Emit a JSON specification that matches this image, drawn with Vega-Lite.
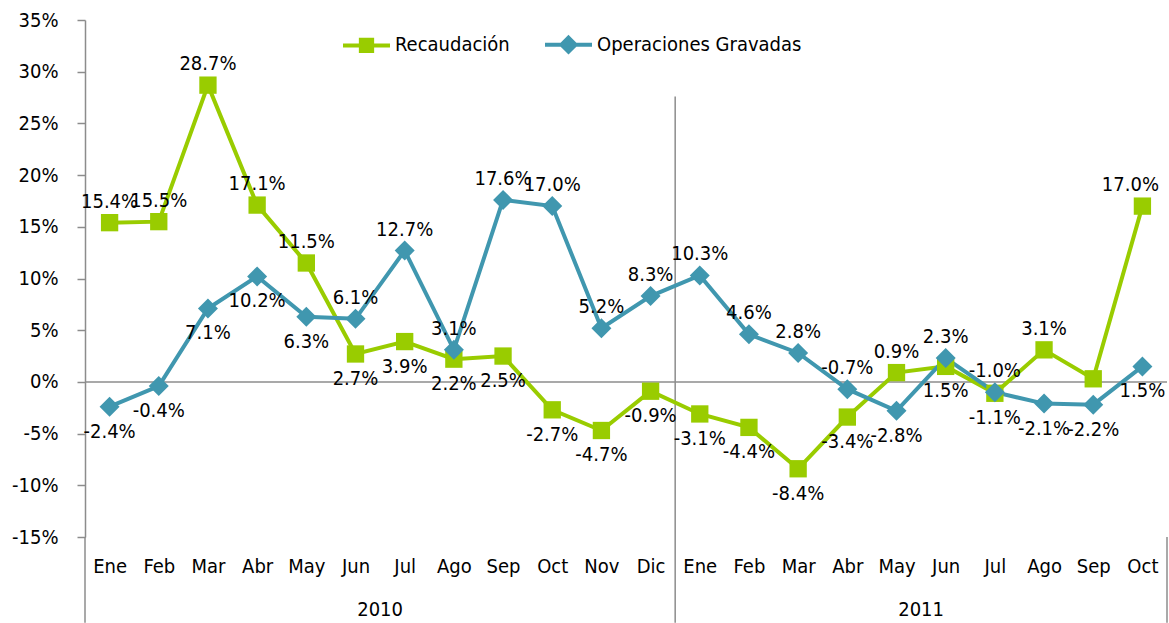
{
  "$schema": "https://vega.github.io/schema/vega-lite/v6.json",
  "width": 1082,
  "height": 517,
  "autosize": {"type": "none"},
  "padding": {"left": 85, "top": 20, "right": 2, "bottom": 86},
  "background": "white",
  "config": {
    "font": "DejaVu Sans Condensed, Liberation Sans Narrow, sans-serif",
    "view": {"stroke": null},
    "locale": {"number": {"decimal": ".", "thousands": ",", "grouping": [3], "currency": ["$", ""], "minus": "-"}}
  },
  "data": {
    "values": [
      {"idx": 0, "mes": "Ene", "anio": "2010", "serie": "Recaudación", "valor": 0.154},
      {"idx": 1, "mes": "Feb", "anio": "2010", "serie": "Recaudación", "valor": 0.155},
      {"idx": 2, "mes": "Mar", "anio": "2010", "serie": "Recaudación", "valor": 0.287},
      {"idx": 3, "mes": "Abr", "anio": "2010", "serie": "Recaudación", "valor": 0.171},
      {"idx": 4, "mes": "May", "anio": "2010", "serie": "Recaudación", "valor": 0.115},
      {"idx": 5, "mes": "Jun", "anio": "2010", "serie": "Recaudación", "valor": 0.027},
      {"idx": 6, "mes": "Jul", "anio": "2010", "serie": "Recaudación", "valor": 0.039},
      {"idx": 7, "mes": "Ago", "anio": "2010", "serie": "Recaudación", "valor": 0.022},
      {"idx": 8, "mes": "Sep", "anio": "2010", "serie": "Recaudación", "valor": 0.025},
      {"idx": 9, "mes": "Oct", "anio": "2010", "serie": "Recaudación", "valor": -0.027},
      {"idx": 10, "mes": "Nov", "anio": "2010", "serie": "Recaudación", "valor": -0.047},
      {"idx": 11, "mes": "Dic", "anio": "2010", "serie": "Recaudación", "valor": -0.009},
      {"idx": 12, "mes": "Ene", "anio": "2011", "serie": "Recaudación", "valor": -0.031},
      {"idx": 13, "mes": "Feb", "anio": "2011", "serie": "Recaudación", "valor": -0.044},
      {"idx": 14, "mes": "Mar", "anio": "2011", "serie": "Recaudación", "valor": -0.084},
      {"idx": 15, "mes": "Abr", "anio": "2011", "serie": "Recaudación", "valor": -0.034},
      {"idx": 16, "mes": "May", "anio": "2011", "serie": "Recaudación", "valor": 0.009},
      {"idx": 17, "mes": "Jun", "anio": "2011", "serie": "Recaudación", "valor": 0.015},
      {"idx": 18, "mes": "Jul", "anio": "2011", "serie": "Recaudación", "valor": -0.011},
      {"idx": 19, "mes": "Ago", "anio": "2011", "serie": "Recaudación", "valor": 0.031},
      {"idx": 20, "mes": "Sep", "anio": "2011", "serie": "Recaudación", "valor": 0.003, "mostrar": false},
      {"idx": 21, "mes": "Oct", "anio": "2011", "serie": "Recaudación", "valor": 0.170},
      {"idx": 0, "mes": "Ene", "anio": "2010", "serie": "Operaciones Gravadas", "valor": -0.024},
      {"idx": 1, "mes": "Feb", "anio": "2010", "serie": "Operaciones Gravadas", "valor": -0.004},
      {"idx": 2, "mes": "Mar", "anio": "2010", "serie": "Operaciones Gravadas", "valor": 0.071},
      {"idx": 3, "mes": "Abr", "anio": "2010", "serie": "Operaciones Gravadas", "valor": 0.102},
      {"idx": 4, "mes": "May", "anio": "2010", "serie": "Operaciones Gravadas", "valor": 0.063},
      {"idx": 5, "mes": "Jun", "anio": "2010", "serie": "Operaciones Gravadas", "valor": 0.061},
      {"idx": 6, "mes": "Jul", "anio": "2010", "serie": "Operaciones Gravadas", "valor": 0.127},
      {"idx": 7, "mes": "Ago", "anio": "2010", "serie": "Operaciones Gravadas", "valor": 0.031},
      {"idx": 8, "mes": "Sep", "anio": "2010", "serie": "Operaciones Gravadas", "valor": 0.176},
      {"idx": 9, "mes": "Oct", "anio": "2010", "serie": "Operaciones Gravadas", "valor": 0.170},
      {"idx": 10, "mes": "Nov", "anio": "2010", "serie": "Operaciones Gravadas", "valor": 0.052},
      {"idx": 11, "mes": "Dic", "anio": "2010", "serie": "Operaciones Gravadas", "valor": 0.083},
      {"idx": 12, "mes": "Ene", "anio": "2011", "serie": "Operaciones Gravadas", "valor": 0.103},
      {"idx": 13, "mes": "Feb", "anio": "2011", "serie": "Operaciones Gravadas", "valor": 0.046},
      {"idx": 14, "mes": "Mar", "anio": "2011", "serie": "Operaciones Gravadas", "valor": 0.028},
      {"idx": 15, "mes": "Abr", "anio": "2011", "serie": "Operaciones Gravadas", "valor": -0.007},
      {"idx": 16, "mes": "May", "anio": "2011", "serie": "Operaciones Gravadas", "valor": -0.028},
      {"idx": 17, "mes": "Jun", "anio": "2011", "serie": "Operaciones Gravadas", "valor": 0.023},
      {"idx": 18, "mes": "Jul", "anio": "2011", "serie": "Operaciones Gravadas", "valor": -0.010},
      {"idx": 19, "mes": "Ago", "anio": "2011", "serie": "Operaciones Gravadas", "valor": -0.021},
      {"idx": 20, "mes": "Sep", "anio": "2011", "serie": "Operaciones Gravadas", "valor": -0.022},
      {"idx": 21, "mes": "Oct", "anio": "2011", "serie": "Operaciones Gravadas", "valor": 0.015}
    ]
  },
  "layer": [
    {
      "data": {"values": [{}]},
      "mark": {"type": "rule", "color": "#8c8c8c", "strokeWidth": 1.5},
      "encoding": {"y": {"datum": 0, "type": "quantitative", "scale": {"domain": [-0.15, 0.35], "nice": false, "zero": false}}}
    },
    {
      "data": {"values": [{}]},
      "mark": {"type": "rule", "color": "#8c8c8c", "strokeWidth": 1.5},
      "encoding": {
        "x": {"datum": 11.5, "type": "quantitative"},
        "y": {"datum": 0.276, "type": "quantitative"},
        "y2": {"datum": -0.233}
      }
    },
    {
      "data": {"values": [{}]},
      "mark": {"type": "rule", "color": "#8c8c8c", "strokeWidth": 1.5},
      "encoding": {
        "x": {"datum": -0.5, "type": "quantitative"},
        "y": {"datum": -0.15, "type": "quantitative"},
        "y2": {"datum": -0.233}
      }
    },
    {
      "data": {"values": [{}]},
      "mark": {"type": "rule", "color": "#8c8c8c", "strokeWidth": 1.5},
      "encoding": {
        "x": {"datum": 21.5, "type": "quantitative"},
        "y": {"datum": -0.15, "type": "quantitative"},
        "y2": {"datum": -0.233}
      }
    },
    {
      "mark": {"type": "line", "strokeWidth": 4},
      "encoding": {
        "x": {
          "field": "idx", "type": "quantitative",
          "scale": {"domain": [-0.5, 21.5], "nice": false, "zero": false},
          "axis": {
            "title": null, "domain": false, "ticks": false, "grid": false,
            "values": [0,1,2,3,4,5,6,7,8,9,10,11,12,13,14,15,16,17,18,19,20,21],
            "labelExpr": "['Ene','Feb','Mar','Abr','May','Jun','Jul','Ago','Sep','Oct','Nov','Dic'][datum.value % 12]",
            "labelFontSize": 20, "labelColor": "#000", "labelPadding": 19, "labelFlush": false, "labelOverlap": false
          }
        },
        "y": {
          "field": "valor", "type": "quantitative",
          "scale": {"domain": [-0.15, 0.35], "nice": false, "zero": false},
          "axis": {
            "title": null, "grid": false, "format": ".0%",
            "values": [-0.15, -0.1, -0.05, 0, 0.05, 0.1, 0.15, 0.2, 0.25, 0.3, 0.35],
            "labelFontSize": 20, "labelColor": "#000", "labelPadding": 19,
            "domainColor": "#8c8c8c", "domainWidth": 1.5, "tickColor": "#8c8c8c", "tickSize": 8, "tickWidth": 1.5,
            "labelFlush": false
          }
        },
        "color": {
          "field": "serie", "type": "nominal",
          "scale": {"domain": ["Recaudación", "Operaciones Gravadas"], "range": ["#99CC00", "#4097AF"]},
          "legend": {
            "orient": "none", "legendX": 256, "legendY": -1, "direction": "horizontal", "title": null,
            "labelFontSize": 20, "labelColor": "#000", "labelLimit": 0, "symbolSize": 2209, "symbolStrokeWidth": 4,
            "columnPadding": 27, "labelOffset": 3,
            "encode": {
              "symbols": {
                "update": {
                  "shape": {"signal": "datum.value === 'Recaudación' ? 'M-1,0H1M-0.24,-0.24H0.24V0.24H-0.24Z' : 'M-1,0H1M0,-0.3L0.3,0L0,0.3L-0.3,0Z'"},
                  "fill": {"signal": "datum.value === 'Recaudación' ? '#99CC00' : '#4097AF'"},
                  "stroke": {"signal": "datum.value === 'Recaudación' ? '#99CC00' : '#4097AF'"},
                  "opacity": {"value": 1},
                  "fillOpacity": {"value": 1},
                  "strokeWidth": {"value": 4}
                }
              }
            }
          }
        },
        "detail": {"field": "serie"}
      }
    },
    {
      "transform": [{"filter": "datum.serie === 'Recaudación'"}],
      "mark": {"type": "point", "filled": true, "opacity": 1, "shape": "square", "size": 300, "color": "#99CC00"},
      "encoding": {
        "x": {"field": "idx", "type": "quantitative"},
        "y": {"field": "valor", "type": "quantitative"}
      }
    },
    {
      "transform": [{"filter": "datum.serie === 'Operaciones Gravadas'"}],
      "mark": {"type": "point", "filled": true, "opacity": 1, "shape": "diamond", "size": 400, "color": "#4097AF"},
      "encoding": {
        "x": {"field": "idx", "type": "quantitative"},
        "y": {"field": "valor", "type": "quantitative"}
      }
    },
    {
      "transform": [
        {"joinaggregate": [{"op": "max", "field": "valor", "as": "maximo"}], "groupby": ["idx"]},
        {"filter": "datum.mostrar !== false && datum.valor === datum.maximo && datum.idx < 21"}
      ],
      "mark": {"type": "text", "fontSize": 20, "color": "#000", "dy": -21, "baseline": "middle"},
      "encoding": {
        "x": {"field": "idx", "type": "quantitative"},
        "y": {"field": "valor", "type": "quantitative"},
        "text": {"field": "valor", "type": "quantitative", "format": ".1%"}
      }
    },
    {
      "transform": [
        {"joinaggregate": [{"op": "max", "field": "valor", "as": "maximo"}], "groupby": ["idx"]},
        {"filter": "datum.mostrar !== false && datum.valor === datum.maximo && datum.idx === 21"}
      ],
      "mark": {"type": "text", "fontSize": 20, "color": "#000", "dy": -21, "dx": -12, "baseline": "middle"},
      "encoding": {
        "x": {"field": "idx", "type": "quantitative"},
        "y": {"field": "valor", "type": "quantitative"},
        "text": {"field": "valor", "type": "quantitative", "format": ".1%"}
      }
    },
    {
      "transform": [
        {"joinaggregate": [{"op": "max", "field": "valor", "as": "maximo"}], "groupby": ["idx"]},
        {"filter": "datum.mostrar !== false && datum.valor !== datum.maximo"}
      ],
      "mark": {"type": "text", "fontSize": 20, "color": "#000", "dy": 25, "baseline": "middle"},
      "encoding": {
        "x": {"field": "idx", "type": "quantitative"},
        "y": {"field": "valor", "type": "quantitative"},
        "text": {"field": "valor", "type": "quantitative", "format": ".1%"}
      }
    },
    {
      "transform": [
        {"aggregate": [{"op": "mean", "field": "idx", "as": "centro"}], "groupby": ["anio"]}
      ],
      "mark": {"type": "text", "fontSize": 20, "color": "#000", "dy": 73, "baseline": "middle"},
      "encoding": {
        "x": {"field": "centro", "type": "quantitative"},
        "y": {"datum": -0.15, "type": "quantitative"},
        "text": {"field": "anio", "type": "nominal"}
      }
    }
  ]
}
